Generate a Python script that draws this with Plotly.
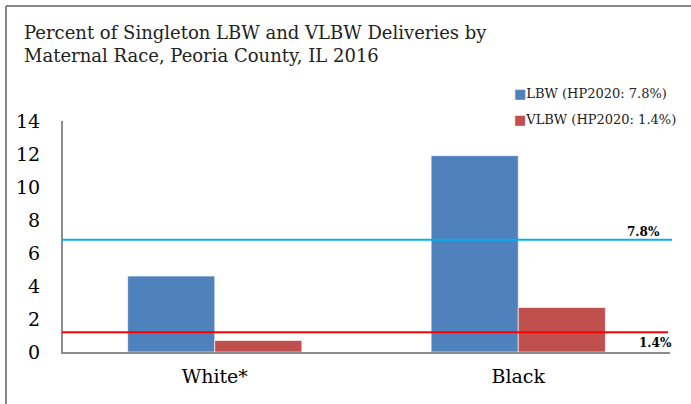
import plotly.graph_objects as go

# ---- data ----
categories = ["White*", "Black"]
series_names = ["LBW (HP2020: 7.8%)", "VLBW (HP2020: 1.4%)"]
lbw_values = [4.6, 11.9]
vlbw_values = [0.7, 2.7]
target_labels = ["7.8%", "1.4%"]
target_line_values = [6.8, 1.2]   # where the reference lines are drawn
y_tick_values = [0, 2, 4, 6, 8, 10, 12, 14]

# ---- styling ----
W, H = 691, 404
L, R, T, B = 63, 670, 121, 352
BLUE = "#4F81BD"
RED = "#C0504D"
LINE_COLORS = ["#00B0F0", "#FF0000"]
SERIF = "DejaVu Serif, Liberation Serif, serif"


def px_x(x):
    return (x - L) / (R - L)


def px_y(y):
    return (B - y) / (B - T)


fig = go.Figure()
fig.add_trace(go.Bar(x=categories, y=lbw_values, name=series_names[0],
                     marker=dict(color=BLUE, line=dict(color="rgba(255,255,255,0.6)", width=1))))
fig.add_trace(go.Bar(x=categories, y=vlbw_values, name=series_names[1],
                     marker=dict(color=RED, line=dict(color="rgba(255,255,255,0.6)", width=1))))

# target lines
line_ends = [672, 668]
for val, col, xe in zip(target_line_values, LINE_COLORS, line_ends):
    fig.add_shape(type="line", xref="paper", yref="y", x0=px_x(62), x1=px_x(xe),
                  y0=val, y1=val, line=dict(color=col, width=2), layer="above")

# target labels
label_pos = [(662, 232), (674, 343)]
for txt, (xp, yp) in zip(target_labels, label_pos):
    fig.add_annotation(text="<b>" + txt + "</b>", xref="paper", yref="paper",
                       x=px_x(xp), y=px_y(yp), xanchor="right", yanchor="middle",
                       showarrow=False, font=dict(family=SERIF, size=12, color="black"))

# legend as annotations
legend_pos = [(512, 93), (512, 119)]
for name, col, (xp, yp) in zip(series_names, [BLUE, RED], legend_pos):
    fig.add_annotation(text=f"<span style='color:{col}'>■</span>{name}", xref="paper", yref="paper",
                       x=px_x(xp), y=px_y(yp), xanchor="left", yanchor="middle",
                       showarrow=False, font=dict(family=SERIF, size=13, color="#222"))

# title
fig.add_annotation(text="Percent of Singleton LBW and VLBW Deliveries by<br>Maternal Race, Peoria County, IL 2016",
                   xref="paper", yref="paper", x=px_x(22), y=px_y(20), xanchor="left", yanchor="top",
                   align="left", showarrow=False, font=dict(family=SERIF, size=18, color="#222"))

# outer frame (left and top)
fig.add_shape(type="line", xref="paper", yref="paper", x0=px_x(6), x1=px_x(6),
              y0=px_y(6), y1=px_y(410), line=dict(color="#868686", width=2))
fig.add_shape(type="line", xref="paper", yref="paper", x0=px_x(6), x1=px_x(700),
              y0=px_y(6), y1=px_y(6), line=dict(color="#868686", width=2))

fig.update_layout(
    width=W, height=H,
    margin=dict(l=L, r=W - R, t=T, b=H - B, pad=0),
    paper_bgcolor="white", plot_bgcolor="white",
    barmode="group", bargap=0.426, bargroupgap=0,
    showlegend=False,
    font=dict(family=SERIF, color="black"),
)
fig.update_xaxes(showline=True, linecolor="#8C8C8C", linewidth=2, showgrid=False,
                 ticks="", tickfont=dict(family=SERIF, size=19, color="black"),
                 ticklabelstandoff=6)
fig.update_yaxes(range=[0, 14], tickvals=y_tick_values, showline=True, linecolor="#8C8C8C",
                 linewidth=2, showgrid=False, zeroline=False, ticks="",
                 tickfont=dict(family=SERIF, size=19, color="black"), ticklabelstandoff=17)

fig.write_html("out.html", config={"displayModeBar": False},
               post_script="document.body.style.margin='0';")
